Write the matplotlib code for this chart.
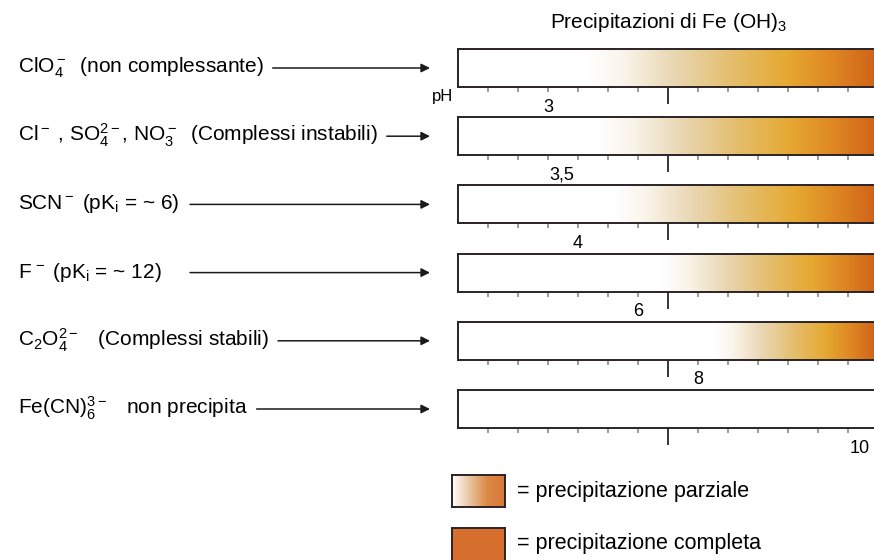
import matplotlib
matplotlib.use("Agg")
import matplotlib.pyplot as plt
import numpy as np
from matplotlib.colors import LinearSegmentedColormap

plt.rcParams["font.family"] = ["Liberation Sans", "DejaVu Sans"]
plt.rcParams["mathtext.fontset"] = "custom"
plt.rcParams["mathtext.rm"] = "Liberation Sans"
plt.rcParams["mathtext.it"] = "Liberation Sans"
plt.rcParams["mathtext.bf"] = "Liberation Sans:bold"
plt.rcParams["mathtext.default"] = "regular"

# anioni presenti insieme a Fe(III)
anioni = [
    r"ClO$_4^-$  (non complessante)",
    r"Cl$^-$ , SO$_4^{2-}$, NO$_3^-$  (Complessi instabili)",
    r"SCN$^-$ (pK$_i$ = ~ 6)",
    r"F$^{\,-}$ (pK$_i$ = ~ 12)",
    r"C$_2$O$_4^{2-}$   (Complessi stabili)",
    r"Fe(CN)$_6^{3-}$   non precipita",
]
# pH di inizio precipitazione scritto sotto ogni barra
ph_inizio = ["3", "3,5", "4", "6", "8", "10"]
# posizione di quel pH sulla scala (unita' = una tacca)
ph_pos = [2.0, 2.45, 3.0, 5.0, 7.0, 12.4]
# tratto in cui il colore passa da bianco ad arancio pieno
sfumatura_da = [3.3, 3.63, 4.17, 5.73, 7.5, None]
sfumatura_a = [12.9, 12.9, 12.9, 12.9, 12.9, None]
tacche = list(range(0, 14))
tacca_maggiore = 6

legenda = ["= precipitazione parziale", "= precipitazione completa"]

W, H = 874, 560
colori = [(0.00, "#ffffff"), (0.12, "#faf5eb"), (0.30, "#e9d7b4"),
          (0.50, "#e4be6e"), (0.70, "#e6a830"), (0.85, "#de8723"),
          (1.00, "#d06419")]
cmap = LinearSegmentedColormap.from_list("precip", colori)
cmap_leg = LinearSegmentedColormap.from_list(
    "parziale", ["#ffffff", "#e9c4a0", "#dc8a45", "#d8783a"])
arancio = "#d66e2d"
bordo = "#2b2326"

fig = plt.figure(figsize=(W / 100, H / 100), dpi=100)
bg = fig.add_axes([0, 0, 1, 1])
bg.set_xlim(0, W)
bg.set_ylim(H, 0)
bg.axis("off")

bg.text(669, 22, r"Precipitazioni di Fe (OH)$_3$", ha="center", va="center",
        fontsize=15)
bg.text(443, 97, "pH", ha="center", va="center", fontsize=12)

x_sx, x_dx = 458, 900
u_sx = -1
u_dx = u_sx + (x_dx - x_sx) / 30
h_barra = 38
passo = 68.2

testi = []
for i, nome in enumerate(anioni):
    top = 49 + passo * i
    yc = top + h_barra / 2
    ax = fig.add_axes([x_sx / W, 1 - (top + h_barra) / H,
                       (x_dx - x_sx) / W, h_barra / H])
    if sfumatura_da[i] is not None:
        g = np.linspace(0, 1, 512).reshape(1, -1)
        ax.imshow(g, cmap=cmap, aspect="auto", interpolation="bilinear",
                  extent=[sfumatura_da[i], sfumatura_a[i], 0, 1])
        ax.axvspan(sfumatura_a[i], u_dx + 1, color=cmap(1.0), lw=0)
    ax.set_xlim(u_sx, u_dx)
    ax.set_ylim(0, 1)
    ax.set_yticks([])
    ax.set_xticks([tacca_maggiore])
    ax.set_xticks([t for t in tacche if t != tacca_maggiore], minor=True)
    ax.tick_params(axis="x", which="major", length=12, width=1.3,
                   color=bordo, labelbottom=False)
    ax.tick_params(axis="x", which="minor", length=3.8, width=1.1,
                   color="#808080")
    for s in ax.spines.values():
        s.set_linewidth(1.4)
        s.set_color(bordo)
    ax.annotate(ph_inizio[i], xy=(ph_pos[i], 0),
                xycoords=("data", "axes fraction"), xytext=(0, -14.5),
                textcoords="offset points", ha="center", va="center",
                fontsize=13, annotation_clip=False)

    t = bg.text(18, yc + 5, nome, ha="left", va="baseline", fontsize=15)
    testi.append((t, yc))

# frecce dall'anione alla barra
fig.canvas.draw()
inv = bg.transData.inverted()
for t, yc in testi:
    bb = t.get_window_extent()
    fine = inv.transform((bb.x1, bb.y0))[0]
    x0 = max(fine + 9, 190)
    bg.annotate("", xy=(430, yc), xytext=(x0, yc),
                arrowprops=dict(arrowstyle="-|>", color="#1a1a1a", lw=1.1,
                                mutation_scale=13, shrinkA=0, shrinkB=0))

# legenda
ax1 = fig.add_axes([452 / W, 1 - 507 / H, 53 / W, 32 / H])
ax1.imshow(np.linspace(0, 1, 256).reshape(1, -1), cmap=cmap_leg,
           aspect="auto", interpolation="bilinear", extent=[0, 1, 0, 1])
ax2 = fig.add_axes([452 / W, 1 - 561 / H, 53 / W, 33 / H])
ax2.set_facecolor(arancio)
for a in (ax1, ax2):
    a.set_xlim(0, 1)
    a.set_ylim(0, 1)
    a.set_xticks([])
    a.set_yticks([])
    for s in a.spines.values():
        s.set_linewidth(1.4)
        s.set_color(bordo)

bg.text(517, 492, legenda[0], ha="left", va="center", fontsize=15.5)
bg.text(517, 543, legenda[1], ha="left", va="center", fontsize=15.5)

fig.savefig("out.png", dpi=100)
